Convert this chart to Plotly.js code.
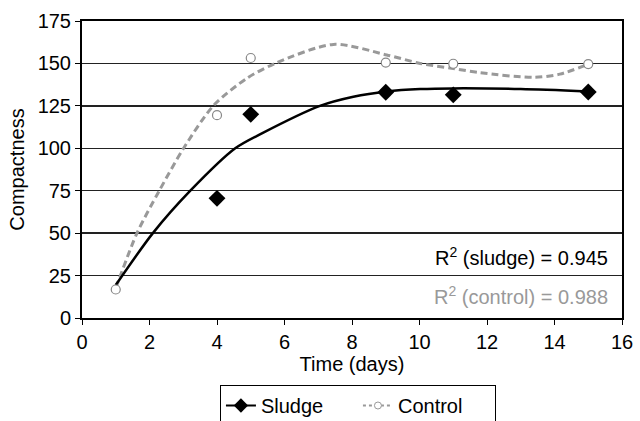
<!DOCTYPE html>
<html>
<head>
<meta charset="utf-8">
<script src="https://cdn.plot.ly/plotly-3.0.1.min.js"></script>
<style>html,body{margin:0;padding:0;background:#fff;}#chart{width:640px;height:421px;}</style>
</head>
<body>
<div id="chart"></div>
<script>
// Measured data points
const sludgeDays = [4, 5, 9, 11, 15];
const sludgeValues = [70.5, 120, 133, 131.5, 133.2];
const controlDays = [1, 4, 5, 9, 11, 15];
const controlValues = [16.8, 119.5, 153.2, 150.5, 149.8, 149.6];

// Trend curves
const sludgeTrendDays = [1, 2.1, 3.21, 4.54, 5.33, 7.05, 8.04, 9.03, 10.02, 11, 13, 15];
const sludgeTrendValues = [19.4, 50, 75, 100, 108.8, 125, 130.4, 133.5, 134.9, 135.3, 134.9, 133.5];
const controlTrendDays = [1, 1.63, 2.29, 3.01, 3.89, 4.88, 5.77, 7.45, 9.03, 10.02, 11, 11.8, 13.4, 14.16, 15];
const controlTrendValues = [17.5, 50, 75, 100, 125, 141.2, 150.4, 161.2, 155, 150, 147, 144.5, 141.8, 143.7, 149.5];

const xTicks = [0, 2, 4, 6, 8, 10, 12, 14, 16];
const yTicks = [0, 25, 50, 75, 100, 125, 150, 175];

const FONT = 'Liberation Sans, Arial, sans-serif';

const traces = [
  {x: controlTrendDays, y: controlTrendValues, mode: 'lines', line: {shape: 'spline', smoothing: 0.8, color: '#999999', width: 3, dash: '7px,4px'}, showlegend: false, hoverinfo: 'skip'},
  {x: sludgeTrendDays, y: sludgeTrendValues, mode: 'lines', line: {shape: 'spline', smoothing: 0.8, color: '#000000', width: 2.5}, showlegend: false, hoverinfo: 'skip'},
  {x: controlDays, y: controlValues, mode: 'markers', marker: {symbol: 'circle', size: 9, color: '#ffffff', line: {color: '#888888', width: 1.2}}, showlegend: false},
  {x: sludgeDays, y: sludgeValues, mode: 'markers', marker: {symbol: 'diamond', size: 13, color: '#000000'}, showlegend: false},
  // legend entries
  {x: [null], y: [null], name: 'Sludge', mode: 'lines+markers', line: {color: '#000000', width: 2}, marker: {symbol: 'diamond', size: 11, color: '#000000'}},
  {x: [null], y: [null], name: 'Control', mode: 'lines+markers', line: {color: '#999999', width: 2, dash: 'dot'}, marker: {symbol: 'circle', size: 7, color: '#ffffff', line: {color: '#999999', width: 1}}}
];

const layout = {
  width: 640, height: 421,
  margin: {l: 82, r: 18, t: 21, b: 103},
  paper_bgcolor: '#ffffff', plot_bgcolor: '#ffffff',
  font: {family: FONT, size: 20, color: '#000000'},
  xaxis: {
    range: [0, 16], tickvals: xTicks, ticktext: xTicks.map(String),
    showgrid: false, zeroline: false, showline: true, linecolor: '#000000', linewidth: 2, mirror: true,
    ticks: 'outside', ticklen: 5, tickcolor: '#000000', tickfont: {size: 20},
    title: {text: 'Time (days)', font: {size: 20}, standoff: 0}
  },
  yaxis: {
    range: [0, 175], tickvals: yTicks, ticktext: yTicks.map(String),
    showgrid: true, gridcolor: '#222222', gridwidth: 1.3, zeroline: false,
    showline: true, linecolor: '#000000', linewidth: 2, mirror: true,
    ticks: 'outside', ticklen: 5, tickcolor: '#000000', tickfont: {size: 20},
    title: {text: 'Compactness', font: {size: 20}, standoff: 8}
  },
  showlegend: true,
  legend: {orientation: 'h', x: 0.511, xanchor: 'center', xref: 'paper', y: 36 / 421, yanchor: 'top', yref: 'container',
    bordercolor: '#000000', borderwidth: 1, font: {size: 20}, traceorder: 'normal', entrywidth: 92, entrywidthmode: 'pixels'},
  annotations: [
    {xref: 'paper', yref: 'y', x: 0.978, y: 36, xanchor: 'right', yanchor: 'middle', showarrow: false,
     text: 'R<sup>2</sup> (sludge) = 0.945', font: {size: 20, color: '#000000'}},
    {xref: 'paper', yref: 'y', x: 0.978, y: 13, xanchor: 'right', yanchor: 'middle', showarrow: false,
     text: 'R<sup>2</sup> (control) = 0.988', font: {size: 20, color: '#999999'}}
  ]
};

Plotly.newPlot('chart', traces, layout, {displayModeBar: false, staticPlot: true});
</script>
</body>
</html>
